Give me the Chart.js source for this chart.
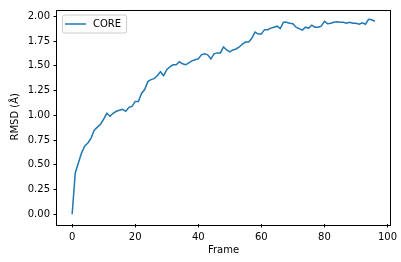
<!DOCTYPE html>
<html>
<head>
<meta charset="utf-8">
<script src="https://cdn.jsdelivr.net/npm/chart.js@4/dist/chart.umd.min.js"></script>
<style>
  html, body { margin: 0; padding: 0; background: #fff; }
  #wrap { width: 401px; height: 262px; }
</style>
</head>
<body>
<div id="wrap"><canvas id="rmsd-canvas"></canvas></div>
<script>
const seriesLabel = "CORE";
const frames = [
  0, 1, 2, 3, 4, 5, 6, 7, 8, 9,
  10, 11, 12, 13, 14, 15, 16, 17, 18, 19,
  20, 21, 22, 23, 24, 25, 26, 27, 28, 29,
  30, 31, 32, 33, 34, 35, 36, 37, 38, 39,
  40, 41, 42, 43, 44, 45, 46, 47, 48, 49,
  50, 51, 52, 53, 54, 55, 56, 57, 58, 59,
  60, 61, 62, 63, 64, 65, 66, 67, 68, 69,
  70, 71, 72, 73, 74, 75, 76, 77, 78, 79,
  80, 81, 82, 83, 84, 85, 86, 87, 88, 89,
  90, 91, 92, 93, 94, 95, 96
];
const rmsd = [
  0.00, 0.42, 0.52, 0.62, 0.69, 0.72, 0.77, 0.85, 0.88, 0.91,
  0.96, 1.02, 0.99, 1.02, 1.04, 1.05, 1.06, 1.04, 1.08, 1.09,
  1.14, 1.14, 1.22, 1.26, 1.34, 1.36, 1.37, 1.40, 1.44, 1.40,
  1.46, 1.49, 1.51, 1.51, 1.54, 1.52, 1.51, 1.53, 1.55, 1.56,
  1.57, 1.61, 1.62, 1.61, 1.57, 1.62, 1.63, 1.63, 1.69, 1.66,
  1.64, 1.66, 1.67, 1.69, 1.72, 1.74, 1.74, 1.78, 1.84, 1.82,
  1.82, 1.865, 1.865, 1.88, 1.89, 1.90, 1.875, 1.94, 1.94, 1.93,
  1.925, 1.89, 1.875, 1.86, 1.89, 1.88, 1.91, 1.89, 1.89, 1.90,
  1.95, 1.925, 1.93, 1.94, 1.945, 1.94, 1.94, 1.93, 1.94, 1.93,
  1.93, 1.92, 1.935, 1.92, 1.97, 1.965, 1.95
];
const xTicks = [0, 20, 40, 60, 80, 100];
const yTicks = [0, 0.25, 0.5, 0.75, 1.0, 1.25, 1.5, 1.75, 2.0];

const fontFamily = "'DejaVu Sans', sans-serif";
const lineColor = "#1f77b4";

// box round the plot, like matplotlib spines
const framePlugin = {
  id: "frame",
  afterDatasetsDraw(chart) {
    const a = chart.chartArea;
    const ctx = chart.ctx;
    ctx.save();
    ctx.strokeStyle = "#000";
    ctx.lineWidth = 1;
    ctx.strokeRect(Math.round(a.left) - 0.5, Math.round(a.top) + 0.5,
      Math.round(a.right - a.left) + 1, Math.round(a.bottom - a.top));
    ctx.restore();
  }
};

// legend inside the axes, upper left
const insideLegend = {
  id: "insideLegend",
  afterDraw(chart) {
    const a = chart.chartArea;
    const ctx = chart.ctx;
    const ds = chart.data.datasets[0];
    const x = a.left + 5, y = a.top + 5;
    ctx.save();
    ctx.font = "10px " + fontFamily;
    const w = 30 + ctx.measureText(ds.label).width + 6;
    const h = 18;
    ctx.beginPath();
    ctx.roundRect(x + 0.5, y + 0.5, w, h, 2);
    ctx.fillStyle = "rgba(255,255,255,0.8)";
    ctx.fill();
    ctx.strokeStyle = "#cccccc";
    ctx.lineWidth = 1;
    ctx.stroke();
    ctx.beginPath();
    ctx.moveTo(x + 3, y + h / 2 + 0.5);
    ctx.lineTo(x + 24, y + h / 2 + 0.5);
    ctx.strokeStyle = ds.borderColor;
    ctx.lineWidth = 1.5;
    ctx.stroke();
    ctx.fillStyle = "#000";
    ctx.textBaseline = "middle";
    ctx.fillText(ds.label, x + 31, y + h / 2 + 1);
    ctx.restore();
  }
};

function renderChart() {
  const ctx = document.getElementById("rmsd-canvas").getContext("2d");
  return new Chart(ctx, {
    type: "line",
    data: {
      datasets: [{
        label: seriesLabel,
        data: frames.map((f, i) => ({ x: f, y: rmsd[i] })),
        borderColor: lineColor,
        borderWidth: 1.5,
        pointRadius: 0,
        tension: 0,
        fill: false
      }]
    },
    options: {
      responsive: true,
      maintainAspectRatio: false,
      animation: false,
      layout: { padding: { top: 6, right: 11, left: 0, bottom: 0 } },
      plugins: {
        legend: { display: false },
        tooltip: { enabled: false }
      },
      scales: {
        x: {
          type: "linear",
          min: -4.8,
          max: 100.8,
          afterBuildTicks: s => { s.ticks = xTicks.map(v => ({ value: v })); },
          afterFit: s => { s.height = 38; },
          grid: { display: true, drawOnChartArea: false, drawTicks: true, tickLength: 3.5, color: "#000" },
          border: { display: false },
          ticks: {
            color: "#000",
            padding: 3.5,
            maxRotation: 0,
            font: { family: fontFamily, size: 10 },
            callback: v => String(v)
          },
          title: {
            display: true,
            text: "Frame",
            color: "#000",
            font: { family: fontFamily, size: 10 },
            padding: { top: 0, bottom: 6 }
          }
        },
        y: {
          min: -0.0985,
          max: 2.0685,
          afterBuildTicks: s => { s.ticks = yTicks.map(v => ({ value: v })); },
          afterFit: s => { s.width = 57; },
          grid: { display: true, drawOnChartArea: false, drawTicks: true, tickLength: 3.5, color: "#000" },
          border: { display: false },
          ticks: {
            color: "#000",
            padding: 3.5,
            font: { family: fontFamily, size: 10 },
            callback: v => v.toFixed(2)
          },
          title: {
            display: true,
            text: "RMSD (Å)",
            color: "#000",
            font: { family: fontFamily, size: 10 },
            padding: { top: 9, bottom: 0 }
          }
        }
      }
    },
    plugins: [framePlugin, insideLegend]
  });
}

renderChart();
</script>
</body>
</html>
